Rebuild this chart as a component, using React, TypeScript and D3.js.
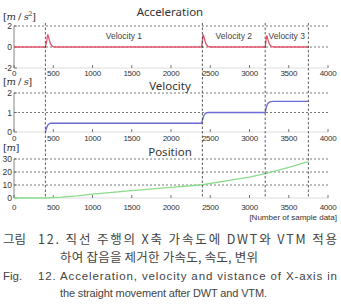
import * as d3 from 'd3';

const X_TICKS = [0, 500, 1000, 1500, 2000, 2500, 3000, 3500, 4000];
const MARKERS = [400, 2400, 3200, 3750];

const ACC: [number, number][] = [
  [0, 0], [400, 0], [415, 0.5], [430, 1.2], [445, 0.8], [465, 0.3], [490, 0.05], [520, 0],
  [2390, 0], [2400, 0.6], [2410, 1.2], [2425, 0.8], [2445, 0.3], [2470, 0.05], [2500, 0],
  [3200, 0], [3210, 0.6], [3220, 1.1], [3235, 0.7], [3255, 0.25], [3280, 0.05], [3310, 0], [3750, 0],
];
const VEL: [number, number][] = [
  [400, 0], [410, 0.15], [430, 0.35], [450, 0.43], [470, 0.45], [2390, 0.45], [2400, 0.6],
  [2420, 0.85], [2440, 0.97], [2470, 1.0], [3200, 1.0], [3210, 1.2], [3230, 1.45], [3260, 1.55],
  [3300, 1.57], [3750, 1.57],
];
const POS: [number, number][] = [
  [0, 0], [400, 0], [600, 0.6], [800, 1.6], [1000, 3], [1500, 5.6], [2000, 8.2], [2400, 10.2],
  [2800, 14.2], [3000, 16], [3200, 18.8], [3500, 23.5], [3750, 28],
];
const SEGMENTS = [
  { label: 'Velocity 1', from: 400, to: 2400 },
  { label: 'Velocity 2', from: 2400, to: 3200 },
  { label: 'Velocity 3', from: 3200, to: 3750 },
];

type Panel = {
  title: string;
  unit: React.ReactNode;
  domain: [number, number];
  ticks: number[];
  range: [number, number];
  data: [number, number][];
  color: string;
  titleY: number;
  unitY: number;
  tickY: number;
};

const PANELS: Panel[] = [
  { title: 'Acceleration', unit: <>[<tspan fontStyle="italic">m</tspan> / <tspan fontStyle="italic">s</tspan><tspan dy={-4} fontSize={6.5}>2</tspan><tspan dy={4}>]</tspan></>,
    domain: [-2, 2], ticks: [-2, 0, 2], range: [68, 26], data: ACC, color: '#e2566c', titleY: 16, unitY: 20, tickY: 75.5 },
  { title: 'Velocity', unit: <>[<tspan fontStyle="italic">m</tspan> / <tspan fontStyle="italic">s</tspan>]</>,
    domain: [0, 2], ticks: [0, 1, 2], range: [132, 93], data: VEL, color: '#6b6bd8', titleY: 89.5, unitY: 85, tickY: 141 },
  { title: 'Position', unit: <>[<tspan fontStyle="italic">m</tspan>]</>,
    domain: [0, 30], ticks: [0, 10, 20, 30], range: [198, 159], data: POS, color: '#8bdc8b', titleY: 155.5, unitY: 151, tickY: 210 },
];

const x = d3.scaleLinear().domain([0, 4000]).range([14, 328]);
const tickFont = '"Liberation Sans Narrow", "Liberation Sans", sans-serif';

function PanelView({ p }: { p: Panel }) {
  const y = d3.scaleLinear().domain(p.domain).range(p.range);
  const line = d3.line<[number, number]>().x(d => x(d[0])).y(d => y(d[1]));
  return (
    <g>
      <text x={170} y={p.titleY} fontSize={11.5} textAnchor="middle" fill="#333" fontFamily='"Noto Sans", sans-serif'>{p.title}</text>
      <text x={3} y={p.unitY} fontSize={10} fill="#333" fontFamily='"DejaVu Serif", serif' letterSpacing={-0.5}>{p.unit}</text>
      {p.ticks.filter(t => t !== p.domain[0]).map(t => (
        <line key={t} x1={x(0)} x2={x(4000)} y1={y(t)} y2={y(t)} stroke="#555" strokeWidth={0.8} strokeDasharray="2,2" />
      ))}
      <line x1={x(0)} x2={x(0)} y1={y(p.domain[1])} y2={y(p.domain[0])} stroke="#666" strokeWidth={0.8} />
      <line x1={x(0)} x2={x(4000)} y1={y(p.domain[0])} y2={y(p.domain[0])} stroke="#bbb" strokeWidth={0.5} />
      {p.ticks.map(t => (
        <g key={t}>
          <line x1={x(0)} x2={x(0) + 3} y1={y(t)} y2={y(t)} stroke="#666" strokeWidth={0.8} />
          <text x={x(0) - 2} y={y(t) + 3} fontSize={8.5} textAnchor="end" fill="#333" fontFamily={tickFont}>{t}</text>
        </g>
      ))}
      {X_TICKS.map(t => (
        <g key={t}>
          <line x1={x(t)} x2={x(t)} y1={y(p.domain[0])} y2={y(p.domain[0]) - 3} stroke="#555" strokeWidth={0.8} />
          <text x={x(t)} y={p.tickY} fontSize={8} textAnchor="middle" fill="#333" fontFamily={tickFont} letterSpacing={-0.3}>{t}</text>
        </g>
      ))}
      <path d={line(p.data) ?? ''} fill="none" stroke={p.color} strokeWidth={1.3} />
    </g>
  );
}

export default function App() {
  const yAcc = d3.scaleLinear().domain([-2, 2]).range([68, 26]);
  return (
    <svg width={341} height={306} style={{ position: 'absolute', left: 0, top: 0, background: 'white' }}>
      {PANELS.map(p => <PanelView key={p.title} p={p} />)}
      {MARKERS.map(m => (
        <line key={m} x1={x(m)} x2={x(m)} y1={23} y2={198} stroke="#333" strokeWidth={0.8} strokeDasharray="2.5,2" />
      ))}
      {SEGMENTS.map(s => (
        <text key={s.label} x={x((s.from + s.to) / 2)} y={yAcc(1) + 2} fontSize={8.5} textAnchor="middle" fill="#444" fontFamily='"Liberation Sans", sans-serif'>{s.label}</text>
      ))}
      <text x={337} y={220} fontSize={8} textAnchor="end" fill="#333" fontFamily={tickFont}>[Number of sample data]</text>

      <g fill="#444">
        <text x={3} y={244} fontSize={12.5} fontFamily='"Noto Sans CJK KR", sans-serif'>그림</text>
        <text x={38} y={244} fontSize={12.5} fontFamily='"Noto Sans CJK KR", sans-serif' textLength={299} lengthAdjust="spacing">12. 직선 주행의 X축 가속도에 DWT와 VTM 적용</text>
        <text x={60} y={262} fontSize={12.5} fontFamily='"Noto Sans CJK KR", sans-serif' textLength={198} lengthAdjust="spacing">하여 잡음을 제거한 가속도, 속도, 변위</text>
        <text x={3} y={280} fontSize={11.5} fontFamily='"Liberation Sans", sans-serif'>Fig.</text>
        <text x={38} y={280} fontSize={11.5} fontFamily='"Liberation Sans", sans-serif' textLength={299} lengthAdjust="spacing">12. Acceleration, velocity and vistance of X-axis in</text>
        <text x={60} y={297} fontSize={11} fontFamily='"Liberation Sans", sans-serif' textLength={207} lengthAdjust="spacing">the straight movement after DWT and VTM.</text>
      </g>
    </svg>
  );
}
